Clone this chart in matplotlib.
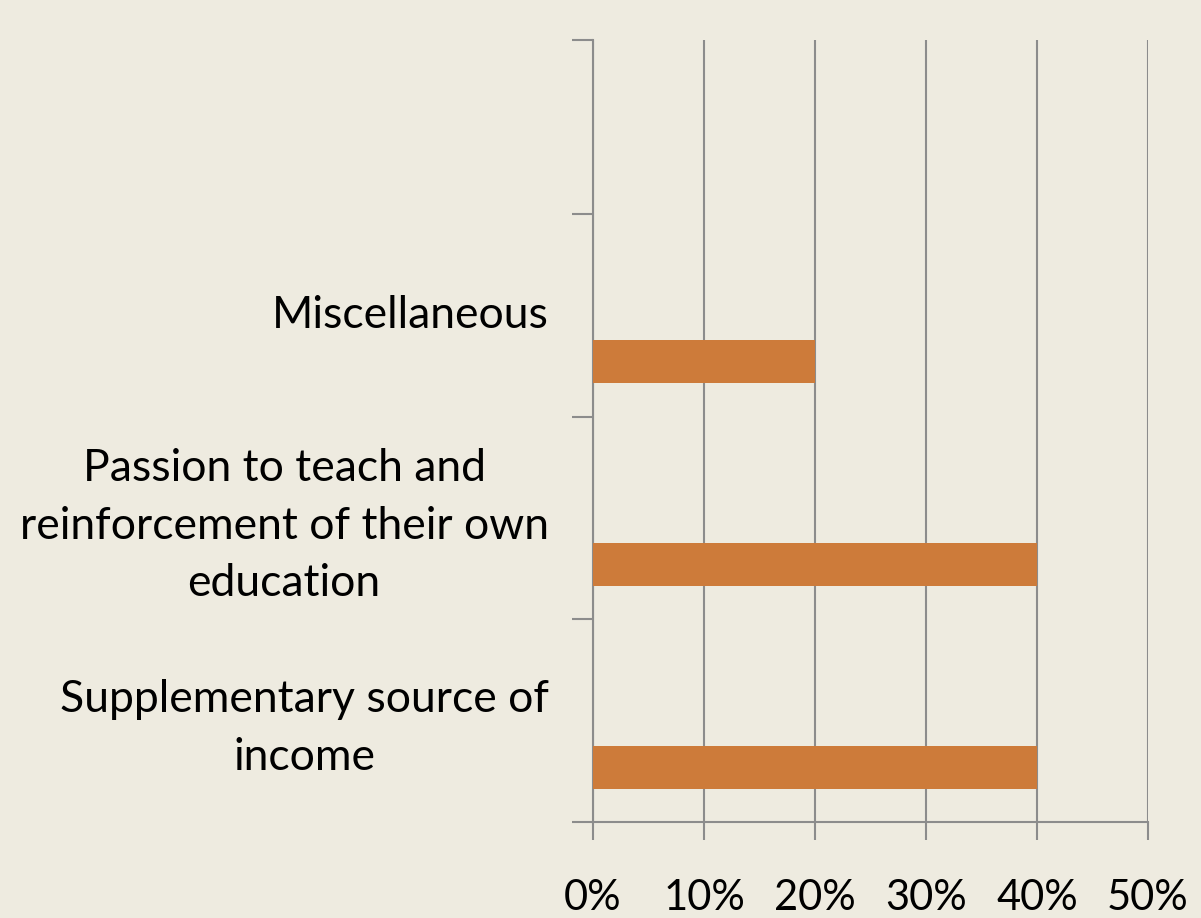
import matplotlib.pyplot as plt
import matplotlib.transforms as mtransforms
import numpy as np

categories = ["Supplementary source of\nincome",
              "Passion to teach and\nreinforcement of their own\neducation",
              "Miscellaneous",
              ""]
values = [40, 40, 20, np.nan]
xticks = [0, 10, 20, 30, 40, 50]

bg = '#EEEBE0'
bar_color = '#CD7B3A'
grid_color = '#8C8C8C'

plt.rcParams['font.family'] = ['Lato', 'DejaVu Sans']

fig = plt.figure(figsize=(12.01, 9.18), dpi=100, facecolor=bg)
ax = fig.add_axes([593/1201, 1 - 822/918, 555/1201, 782/918], facecolor=bg)

y = np.arange(len(categories))
ax.barh(y - 0.229, values, height=0.212, color=bar_color, zorder=3)

ax.set_xlim(0, 50)
ax.set_ylim(-0.5, 3.358)

ax.set_xticks(xticks)
ax.set_xticklabels([f'{t}%' for t in xticks], fontsize=30)
ax.tick_params(axis='x', length=13, width=1.5, color=grid_color, pad=28)
ax.xaxis.grid(True, color=grid_color, linewidth=1.5, zorder=0)

ax.set_yticks(y)
ax.set_yticklabels(categories, fontsize=32, multialignment='center', linespacing=1.5)
ax.tick_params(axis='y', which='major', length=0, pad=32)
ax.set_yticks([-0.5, 0.5, 1.5, 2.5, 3.358], minor=True)
ax.tick_params(axis='y', which='minor', length=15, width=1.5, color=grid_color)

# nudge the category labels up a little
shift = mtransforms.ScaledTranslation(0, 3/72, fig.dpi_scale_trans)
for lab in ax.get_yticklabels():
    lab.set_transform(lab.get_transform() + shift)

for s in ['top', 'right']:
    ax.spines[s].set_visible(False)
for s in ['left', 'bottom']:
    ax.spines[s].set_color(grid_color)
    ax.spines[s].set_linewidth(1.5)

plt.savefig('out.png', dpi=100, facecolor=bg)
